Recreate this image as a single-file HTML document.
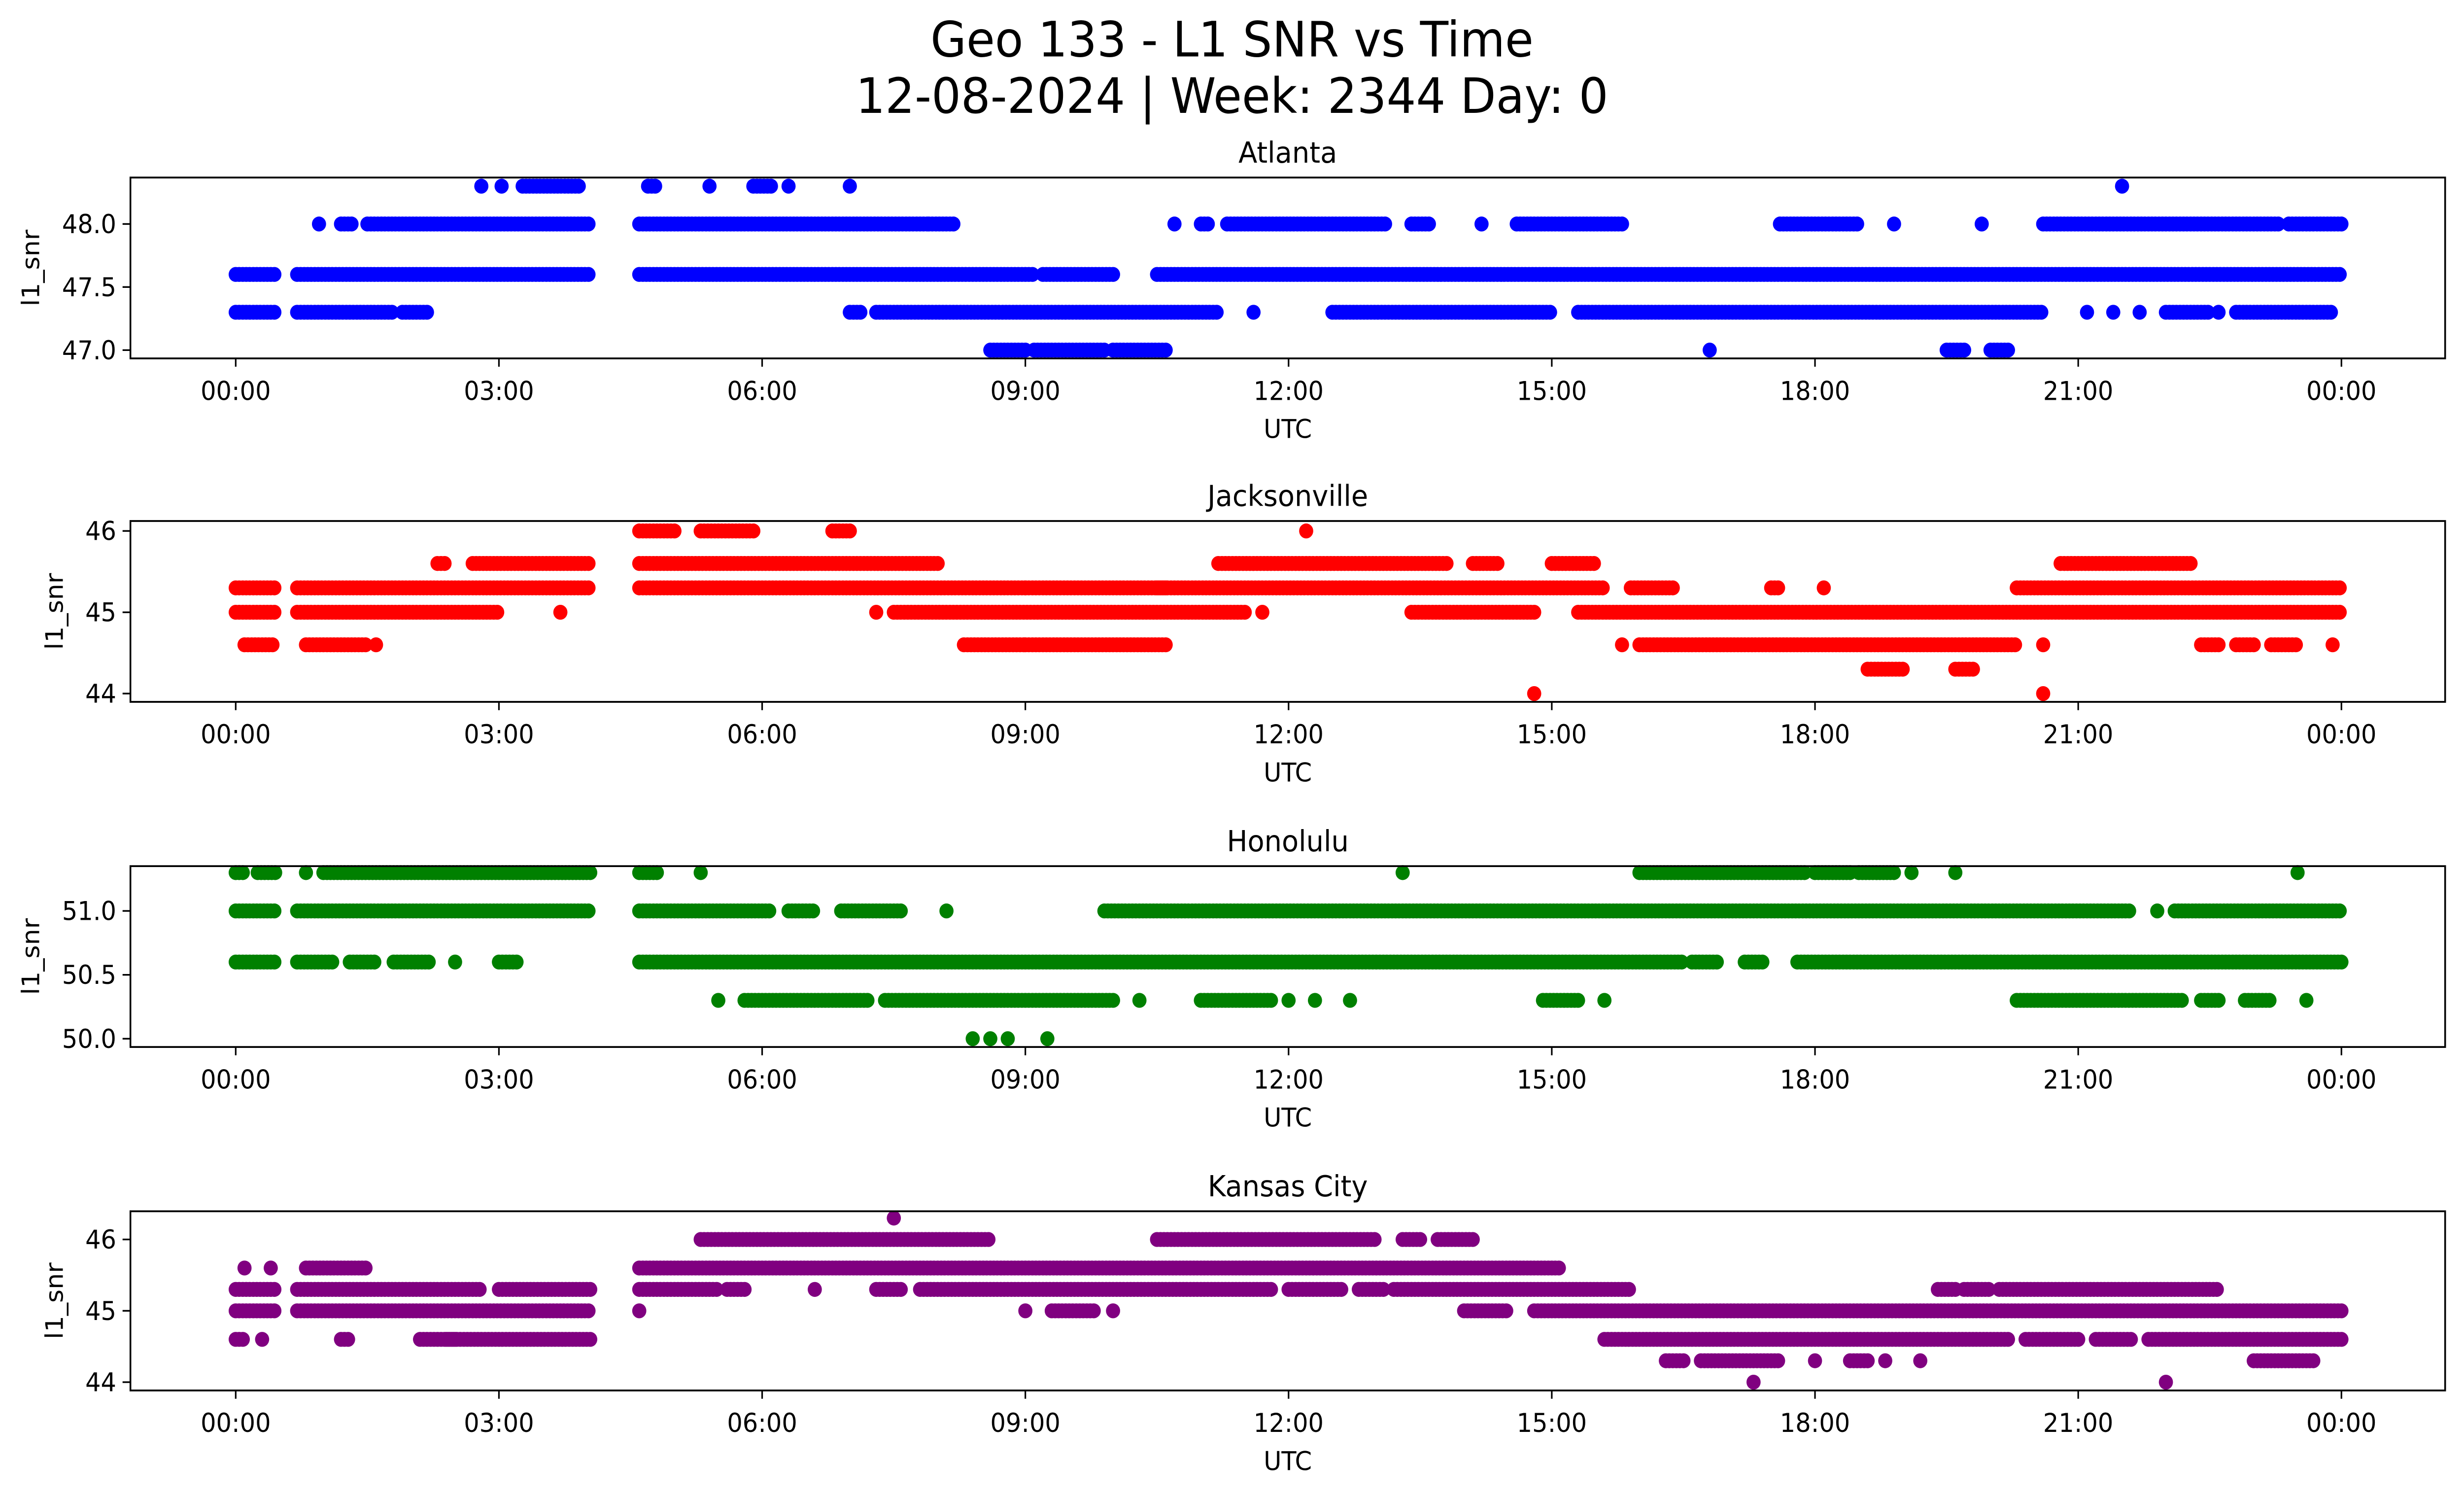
<!DOCTYPE html>
<html><head><meta charset="utf-8"><style>html,body{margin:0;padding:0;background:#fff;overflow:hidden;width:100%;height:100%}svg{display:block;width:100vw;height:100vh}text{font-family:"DejaVu Sans","Liberation Sans",sans-serif;fill:#000}</style></head>
<body>
<svg id="fig" xmlns="http://www.w3.org/2000/svg" viewBox="0 0 1568 901" preserveAspectRatio="none">
<rect width="1568" height="901" fill="#fff"/>
<text x="784" y="34" font-size="29.5" text-anchor="middle">Geo 133 - L1 SNR vs Time</text>
<text x="784" y="68" font-size="29.5" text-anchor="middle">12-08-2024 | Week: 2344 Day: 0</text>
</svg>
<script>
// Data: runs of samples [startHour, endHour] per SNR level
const atlantaLevels = [47.0, 47.3, 47.6, 48.0, 48.3];
const atlantaRuns = [
 [[8.6,9.0],[9.1,9.9],[10.0,10.6],[16.8,16.8],[19.5,19.7],[20.0,20.2]],
 [[0,0.45],[0.7,1.8],[1.9,2.2],[7.0,7.15],[7.3,11.2],[11.6,11.6],[12.5,15.0],[15.3,20.6],[21.1,21.1],[21.4,21.4],[21.7,21.7],[22.0,22.5],[22.6,22.6],[22.8,23.9]],
 [[0,0.45],[0.7,4.05],[4.6,9.1],[9.2,10.0],[10.5,24]],
 [[0.95,0.95],[1.2,1.35],[1.5,4.05],[4.6,7.9],[7.9,8.2],[10.7,10.7],[11.0,11.1],[11.3,13.1],[13.4,13.6],[14.2,14.2],[14.6,15.8],[17.6,18.5],[18.9,18.9],[19.9,19.9],[20.6,23.3],[23.4,24]],
 [[2.8,2.8],[3.03,3.03],[3.27,3.93],[4.7,4.8],[5.4,5.4],[5.9,6.1],[6.3,6.3],[7.0,7.0],[21.5,21.5]]
];
const jaxLevels = [44.0, 44.3, 44.6, 45.0, 45.3, 45.6, 46.0];
const jaxRuns = [
 [[14.8,14.8],[20.6,20.6]],
 [[18.6,19.0],[19.6,19.8]],
 [[0.1,0.45],[0.8,1.5],[1.6,1.6],[8.3,9.0],[9.0,10.6],[15.8,15.8],[16.0,20.3],[20.6,20.6],[22.4,22.6],[22.8,23.0],[23.2,23.5],[23.9,23.9]],
 [[0,0.45],[0.7,3.0],[3.7,3.7],[7.3,7.3],[7.5,11.5],[11.7,11.7],[13.4,14.8],[15.3,24]],
 [[0,0.45],[0.7,4.05],[4.6,9.0],[9.0,10.6],[10.5,15.6],[15.9,16.4],[17.5,17.6],[18.1,18.1],[20.3,24]],
 [[2.3,2.4],[2.7,4.05],[4.6,8.0],[11.2,13.8],[14.1,14.4],[15.0,15.5],[20.8,22.3]],
 [[4.6,5.0],[5.3,5.9],[6.8,7.0],[12.2,12.2]]
];
const honLevels = [50.0, 50.3, 50.6, 51.0, 51.3];
const honRuns = [
 [[8.4,8.4],[8.6,8.6],[8.8,8.8],[9.25,9.25]],
 [[5.5,5.5],[5.8,7.2],[7.4,10.0],[10.3,10.3],[11.0,11.8],[12.0,12.0],[12.3,12.3],[12.7,12.7],[14.9,15.3],[15.6,15.6],[20.3,22.2],[22.4,22.6],[22.9,23.2],[23.6,23.6]],
 [[0,0.45],[0.7,1.1],[1.3,1.6],[1.8,2.2],[2.5,2.5],[3.0,3.2],[4.6,16.5],[16.6,16.9],[17.2,17.4],[17.8,24]],
 [[0,0.45],[0.7,4.05],[4.6,6.1],[6.3,6.6],[6.9,7.6],[8.1,8.1],[9.9,21.6],[21.9,21.9],[22.1,24]],
 [[0,0.1],[0.25,0.45],[0.8,0.8],[1.0,4.05],[4.6,4.8],[5.3,5.3],[13.3,13.3],[16.0,17.9],[18.0,18.4],[18.5,18.9],[19.1,19.1],[19.6,19.6],[23.5,23.5]]
];
const kcLevels = [44.0, 44.3, 44.6, 45.0, 45.3, 45.6, 46.0, 46.3];
const kcRuns = [
 [[17.3,17.3],[22.0,22.0]],
 [[16.3,16.5],[16.7,17.6],[18.0,18.0],[18.4,18.6],[18.8,18.8],[19.2,19.2],[23.0,23.7]],
 [[0,0.1],[0.3,0.3],[1.2,1.3],[2.1,2.5],[2.4,4.05],[15.6,20.2],[20.4,21.0],[21.2,21.6],[21.8,24]],
 [[0,0.45],[0.7,4.05],[4.6,4.6],[9.0,9.0],[9.3,9.8],[10.0,10.0],[14.0,14.5],[14.8,24]],
 [[0,0.45],[0.7,2.8],[3.0,4.05],[4.6,5.5],[5.6,5.8],[6.6,6.6],[7.3,7.6],[7.8,11.8],[12.0,12.6],[12.8,13.1],[13.2,15.9],[19.4,19.6],[19.7,20.0],[20.1,22.6]],
 [[0.1,0.1],[0.4,0.4],[0.8,1.5],[4.6,15.1]],
 [[5.3,8.6],[10.5,13.0],[13.3,13.5],[13.7,14.1]],
 [[7.5,7.5]]
];
const xTickHours = [0,3,6,9,12,15,18,21,24];
const xTickLabels = ["00:00","03:00","06:00","09:00","12:00","15:00","18:00","21:00","00:00"];

const NS = "http://www.w3.org/2000/svg";
const svg = document.getElementById("fig");
function mk(tag, attrs, parent){const e=document.createElementNS(NS,tag);for(const k in attrs)e.setAttribute(k,attrs[k]);(parent||svg).appendChild(e);return e;}

const panels = [
 {name:"atlanta",title:"Atlanta",color:"#0000ff",levels:atlantaLevels,runs:atlantaRuns,top:107,bot:216,v0:47.0,y0:211,v1:48.0,y1:135,ticks:[47.0,47.5,48.0],fmt:1},
 {name:"jacksonville",title:"Jacksonville",color:"#ff0000",levels:jaxLevels,runs:jaxRuns,top:314,bot:423,v0:44,y0:418,v1:46,y1:320,ticks:[44,45,46],fmt:0},
 {name:"honolulu",title:"Honolulu",color:"#008000",levels:honLevels,runs:honRuns,top:522,bot:631,v0:50.0,y0:626,v1:51.0,y1:549,ticks:[50.0,50.5,51.0],fmt:1},
 {name:"kansas-city",title:"Kansas City",color:"#800080",levels:kcLevels,runs:kcRuns,top:730,bot:838,v0:44,y0:833,v1:46,y1:747,ticks:[44,45,46],fmt:0}
];
const L=83,R=1556;
const xs = h => 150 + h*(1340/24);

panels.forEach(p=>{
  const g = mk("g",{});
  
  
  const ys = v => p.y0 + (v-p.v0)*(p.y1-p.y0)/(p.v1-p.v0);
  const t = mk("text",{x:(L+R)/2,y:p.top-9,"font-size":17.5,"text-anchor":"middle"},g);
  t.textContent = p.title;
  
  
  const pts = mk("g",{fill:p.color},g);
  
  
  p.levels.forEach((lv,i)=>{
    const y = ys(lv);
    p.runs[i].forEach(r=>{
      for(let h=r[0]; h<=r[1]+1e-9; h+=0.04){
        mk("circle",{cx:xs(h).toFixed(1),cy:y.toFixed(1),r:4.5},pts);
      }
    });
  });
  const fr = mk("rect",{x:L,y:p.top,width:R-L,height:p.bot-p.top,fill:"none",stroke:"#000","stroke-width":1.1},g);
  
  
  xTickHours.forEach((h,i)=>{
    const x=xs(h);
    mk("line",{x1:x,x2:x,y1:p.bot,y2:p.bot+5,stroke:"#000","stroke-width":1},g);
    const tl = mk("text",{x:x,y:p.bot+25,"font-size":15.5,"text-anchor":"middle"},g);
    tl.textContent = xTickLabels[i];
    
    
  });
  const xt = mk("text",{x:(L+R)/2,y:p.bot+48,"font-size":15.5,"text-anchor":"middle"},g);
  xt.textContent="UTC";
  
  
  p.ticks.forEach(v=>{
    const y=ys(v);
    mk("line",{x1:L-5,x2:L,y1:y,y2:y,stroke:"#000","stroke-width":1},g);
    const yl = mk("text",{x:L-9,y:y+5.5,"font-size":15.5,"text-anchor":"end"},g);
    yl.textContent = v.toFixed(p.fmt);
    
    
  });
  const yc=(p.top+p.bot)/2;
  const yt = mk("text",{x:0,y:0,"font-size":15.5,"text-anchor":"middle",transform:`translate(${p.fmt?25:40},${yc}) rotate(-90)`},g);
  yt.textContent="l1_snr";
  
  
});
</script>
</body></html>
